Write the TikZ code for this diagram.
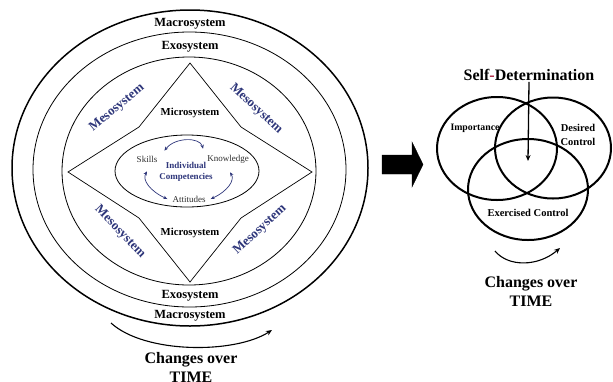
\documentclass[tikz,border=0pt]{standalone}
\usepackage{fontspec}
\setmainfont{Liberation Serif}
\usetikzlibrary{arrows.meta}
\definecolor{mesoblue}{RGB}{46,54,122}
\definecolor{hyphred}{RGB}{170,30,60}
\definecolor{innergray}{RGB}{45,45,45}
\begin{document}
\begin{tikzpicture}[x=1pt,y=-1pt,
  outerring/.style={draw=black,line width=1.5pt},
  sysring/.style={draw=black,line width=0.8pt},
  diamondline/.style={draw=black,line width=0.7pt,line join=miter},
  venn/.style={draw=black,line width=2pt},
  systitle/.style={inner sep=1pt,font=\bfseries\fontsize{12.5}{14}\selectfont},
  microtitle/.style={inner sep=1pt,font=\bfseries\fontsize{10.7}{12}\selectfont},
  meso/.style={inner sep=1pt,text=mesoblue,font=\bfseries\fontsize{13}{15}\selectfont},
  comp/.style={inner sep=1pt,text=innergray,font=\fontsize{9}{11}\selectfont},
  indiv/.style={inner sep=1pt,text=mesoblue,align=center,font=\bfseries\fontsize{9}{11}\selectfont},
  vennlabel/.style={inner sep=1pt,align=center,font=\bfseries\fontsize{10.5}{14}\selectfont},
  timelabel/.style={inner sep=1pt,align=center,font=\bfseries\fontsize{16}{19}\selectfont},
  bluearrow/.style={draw=mesoblue,line width=0.7pt,{Stealth[length=4pt,width=3.5pt]}-{Stealth[length=4pt,width=3.5pt]}},
  timearrow/.style={draw=black,line width=1.1pt,-{Stealth[length=6pt,width=5pt]}},
]
\useasboundingbox (0,0) rectangle (613,381);

% ---- rings
\draw[outerring] (190,168) ellipse [x radius=178pt, y radius=158pt];
\draw[sysring] (189.5,169.5) ellipse [x radius=156.5pt, y radius=137.5pt];
\draw[sysring] (189,171) ellipse [x radius=127pt, y radius=114pt];

% ---- microsystem diamond
\coordinate (dtop) at (190,63);
\coordinate (dleft) at (68,172);
\coordinate (dright) at (312,172);
\coordinate (dbot) at (190,282);
\draw[diamondline] (dtop) -- (139,127) -- (dleft) -- (139,218) -- (dbot)
  -- (241,218) -- (dright) -- (241,127) -- cycle;

% ---- individual competencies ellipse
\draw[sysring] (187,171) ellipse [x radius=72pt, y radius=36pt];

% ---- labels of the systems
\node[systitle] (macrotop) at (190,24) {Macrosystem};
\node[systitle] (exotop) at (190,47) {Exosystem};
\node[microtitle] (microtop) at (190,113) {Microsystem};
\node[microtitle] (microbot) at (190,233) {Microsystem};
\node[systitle] (exobot) at (190,296) {Exosystem};
\node[systitle] (macrobot) at (190,316) {Macrosystem};

\node[meso,rotate=40] (mesotl) at (117,108) {Mesosystem};
\node[meso,rotate=-43] (mesotr) at (256,109) {Mesosystem};
\node[meso,rotate=-46] (mesobl) at (120,232) {Mesosystem};
\node[meso,rotate=43] (mesobr) at (260,230) {Mesosystem};

% ---- competencies
\node[comp] (skills) at (147,159) {Skills};
\node[comp] (know) at (228,159) {Knowledge};
\node[comp] (att) at (189,199) {Attitudes};
\node[indiv] (indiv) at (186,172) {Individual\\Competencies};

\draw[bluearrow] ([xshift=6pt,yshift=4pt]skills.north east)
  .. controls (175,137) and (200,137) .. ([xshift=-3pt,yshift=5pt]know.north west);
\draw[bluearrow] ([yshift=-8pt]skills.south)
  .. controls (142,180) and (150,191) .. ([xshift=-4pt]att.west);
\draw[bluearrow] ([xshift=2pt,yshift=-8pt]know.south)
  .. controls (235,180) and (228,191) .. ([xshift=4pt]att.east);

% ---- time arrow (left)
\node[timelabel] (timeleft) at (191,367.5) {Changes over\\TIME};
\coordinate (tlstart) at (111,323);
\coordinate (tlend) at (272,330);
\draw[timearrow] (tlstart) .. controls (145,354) and (235,354) .. (tlend);

% ---- big arrow
\draw[fill=black,draw=black] (382,155) -- (412,155) -- (412,142) -- (423,164.5)
  -- (412,187) -- (412,174) -- (382,174) -- cycle;

% ---- Venn diagram
\draw[venn] (497,148.5) ellipse [x radius=60pt, y radius=51.5pt];
\draw[venn] (553,148) ellipse [x radius=58pt, y radius=50.5pt];
\draw[venn] (528,189.5) ellipse [x radius=60pt, y radius=50.5pt];

\node[vennlabel,font=\bfseries\fontsize{9.8}{12}\selectfont] (imp) at (475,128) {Importance};
\node[vennlabel] (des) at (578,135) {Desired\\Control};
\node[vennlabel] (exe) at (528,213) {Exercised Control};

\node[timelabel] (sd) at (529,75) {Self\textcolor{hyphred}{-}Determination};
\coordinate (sdcenter) at (528,161);
\draw[draw=black,line width=1.3pt,-{Stealth[length=6pt,width=5pt]}] (sd.south) -- (sdcenter);

\node[timelabel] (timeright) at (531,291.5) {Changes over\\TIME};
\coordinate (trstart) at (495,251);
\coordinate (trend) at (560,248);
\draw[timearrow] (trstart) .. controls (508,267) and (538,267) .. (trend);
\end{tikzpicture}
\end{document}
